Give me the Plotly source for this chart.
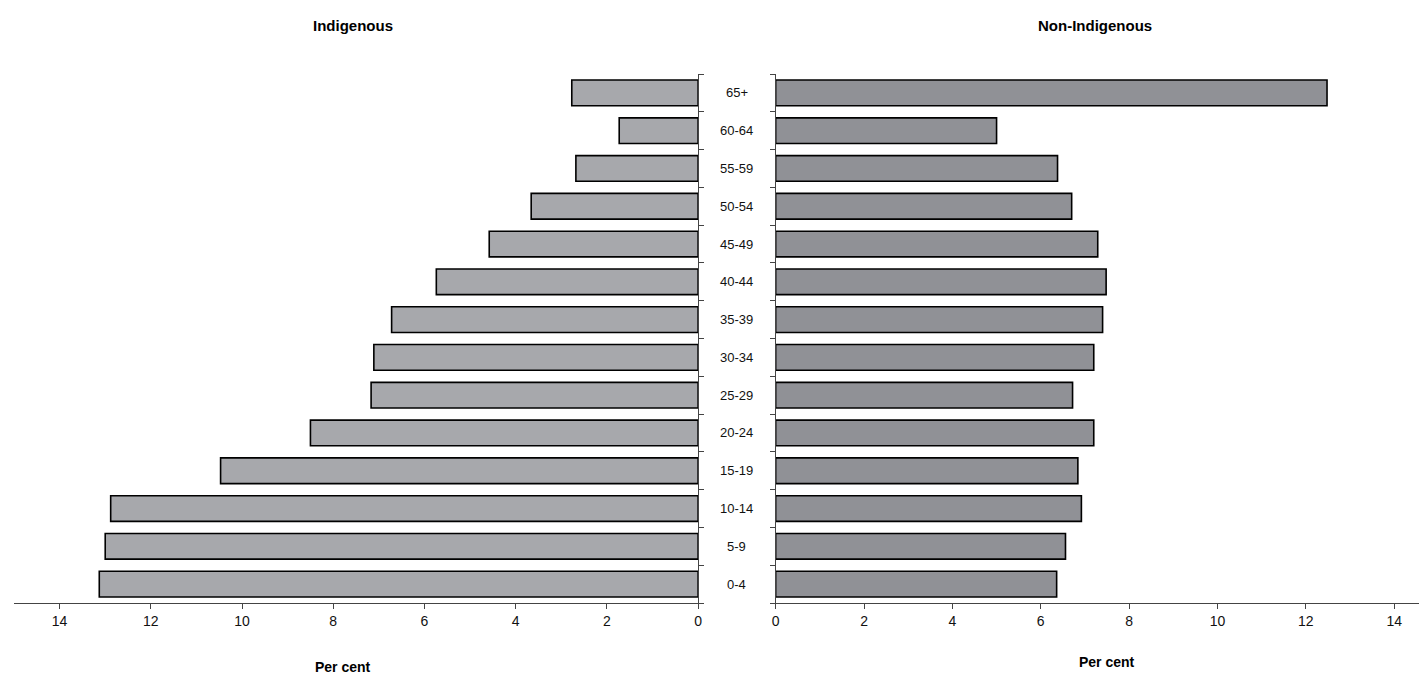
import plotly.graph_objects as go

age_groups = ["0-4", "5-9", "10-14", "15-19", "20-24", "25-29", "30-34",
              "35-39", "40-44", "45-49", "50-54", "55-59", "60-64", "65+"]
indigenous = [13.13, 13.00, 12.88, 10.47, 8.50, 7.17, 7.11,
              6.72, 5.74, 4.58, 3.66, 2.68, 1.73, 2.77]
non_indigenous = [6.36, 6.56, 6.92, 6.84, 7.20, 6.72, 7.20,
                  7.40, 7.48, 7.29, 6.70, 6.38, 5.00, 12.48]
x_ticks = [0, 2, 4, 6, 8, 10, 12, 14]

# page has an 8px body margin; work in screen pixels and convert
OFF = 8
W, H = 1427 - OFF, 678 - OFF


def fx(sx):
    return (sx - OFF) / W


L_LEFT, L_RIGHT = 10, 698
R_LEFT = 776
TOP, BOTTOM = 74, 603
top_m = TOP - OFF
bot_m = H - (BOTTOM - OFF)
plot_h = BOTTOM - TOP


def fy(sy):
    return (BOTTOM - sy) / plot_h


fig = go.Figure()
fig.add_trace(go.Bar(y=age_groups, x=indigenous, orientation="h",
                     marker=dict(color="#a7a8ac", line=dict(color="#000000", width=1.6)),
                     xaxis="x", yaxis="y", showlegend=False))
fig.add_trace(go.Bar(y=age_groups, x=non_indigenous, orientation="h",
                     marker=dict(color="#909196", line=dict(color="#000000", width=1.6)),
                     xaxis="x2", yaxis="y2", showlegend=False))

font = "Liberation Sans, Arial, sans-serif"
axis_common = dict(showgrid=False, zeroline=False, showline=True, linecolor="#444444",
                   linewidth=1, ticks="outside", ticklen=5, tickcolor="#444444",
                   tickfont=dict(family=font, size=14, color="#111111"))

fig.update_layout(
    width=W, height=H,
    margin=dict(l=0, r=0, t=top_m, b=bot_m, pad=0),
    paper_bgcolor="white", plot_bgcolor="white",
    bargap=0.32,
    font=dict(family=font),
    xaxis=dict(domain=[fx(L_LEFT), fx(L_RIGHT)], range=[15.0, 0],
               tickvals=x_ticks, anchor="y", **axis_common),
    yaxis=dict(domain=[0, 1], side="right", anchor="x", type="category",
               categoryorder="array", categoryarray=age_groups,
               range=[-0.5, 13.5], tickson="boundaries", showticklabels=False,
               **axis_common),
    xaxis2=dict(domain=[fx(R_LEFT), 1.0], range=[0, (1427 - R_LEFT) / 44.43],
                tickvals=x_ticks, anchor="y2", **axis_common),
    yaxis2=dict(domain=[0, 1], side="left", anchor="x2", type="category",
                categoryorder="array", categoryarray=age_groups,
                range=[-0.5, 13.5], tickson="boundaries", showticklabels=False,
                **axis_common),
)

for g in age_groups:
    fig.add_annotation(x=fx(737), xref="paper", y=g, yref="y", text=g,
                       showarrow=False, xanchor="center", yanchor="middle",
                       font=dict(family=font, size=13, color="#111111"))

annots = [
    (351, 25, "<b>Indigenous</b>", 15),
    (1097, 25, "<b>Non-Indigenous</b>", 15),
    (341, 667, "<b>Per cent</b>", 14),
    (1109, 662, "<b>Per cent</b>", 14),
]
for px, py, txt, sz in annots:
    fig.add_annotation(x=fx(px), y=fy(py), xref="paper", yref="paper",
                       yanchor="middle", xanchor="center", text=txt, showarrow=False,
                       font=dict(family=font, size=sz, color="#000000"))

fig.write_html("out.html")
